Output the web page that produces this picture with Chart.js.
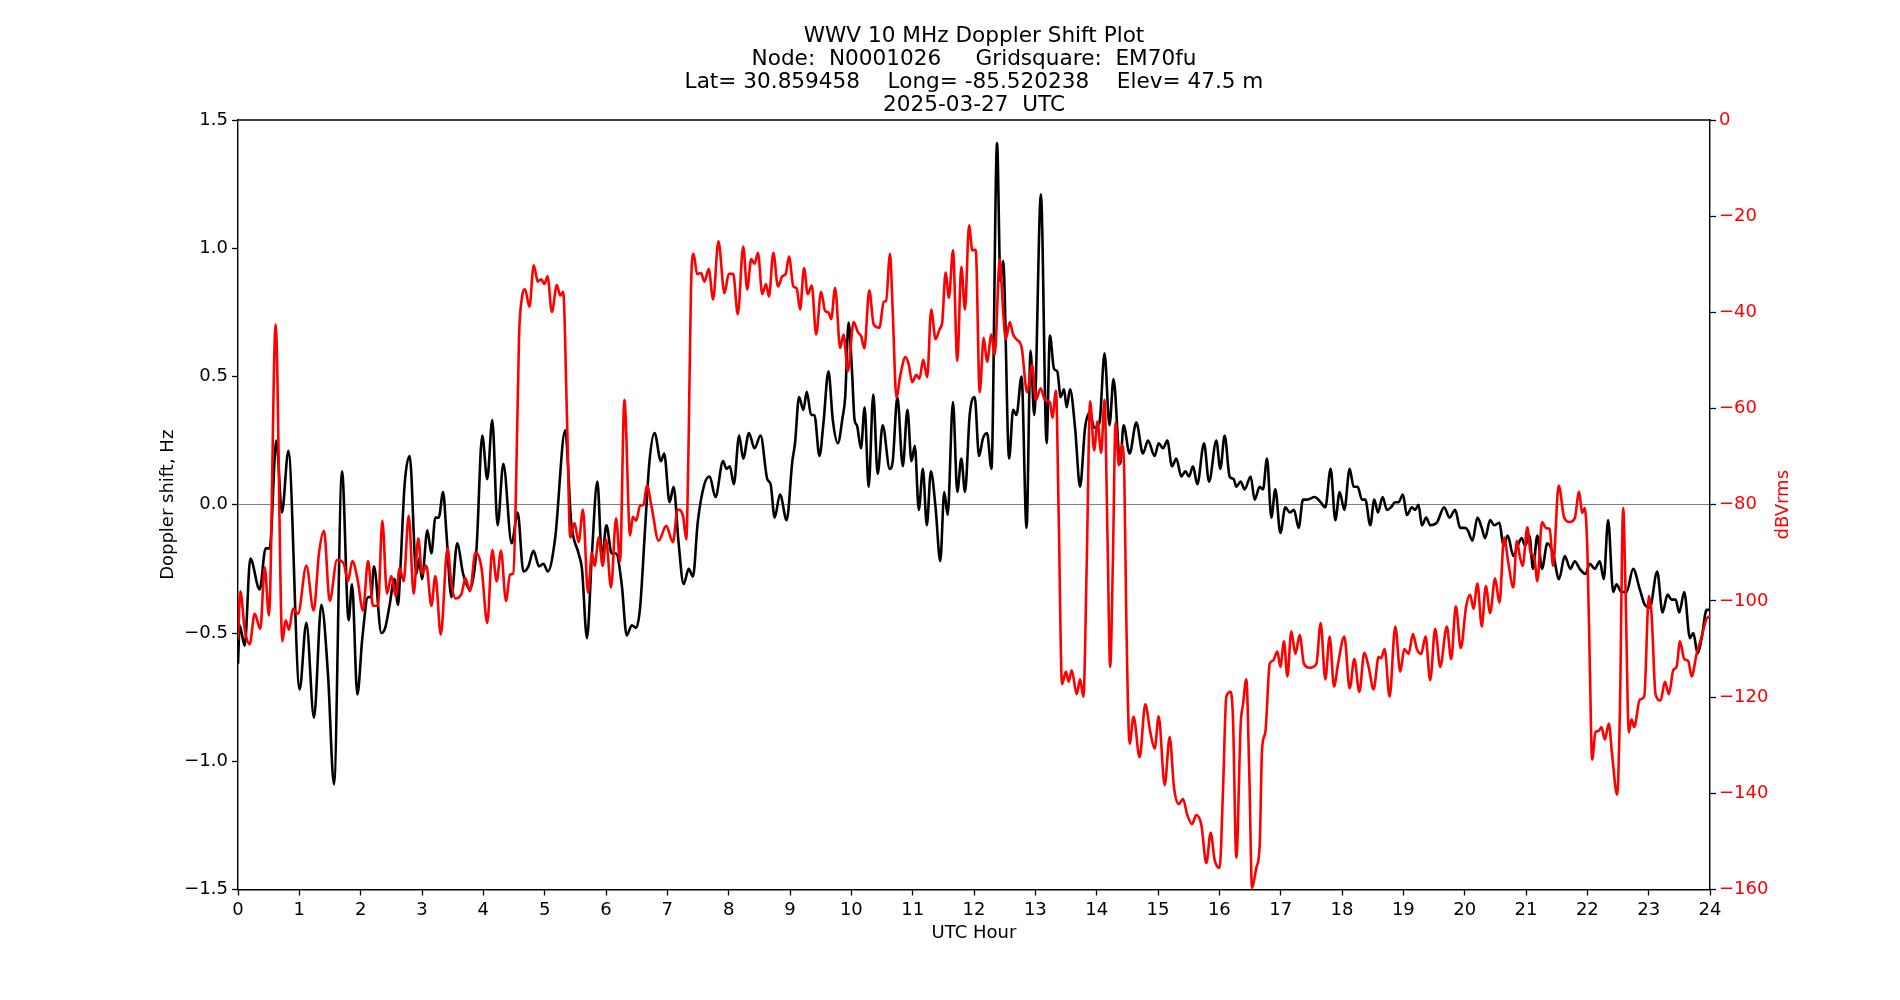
<!DOCTYPE html>
<html>
<head>
<meta charset="utf-8">
<script src="https://cdn.jsdelivr.net/npm/chart.js@4"></script>
<style>
  html, body { margin: 0; padding: 0; background: #ffffff; }
  #wrap { width: 1900px; height: 1000px; }
</style>
</head>
<body>
<div id="wrap"><canvas id="c" width="1900" height="1000"></canvas></div>
<script>
// ---------------- data ----------------
const titleLines = [
  "WWV 10 MHz Doppler Shift Plot",
  "Node:  N0001026     Gridsquare:  EM70fu",
  "Lat= 30.859458    Long= -85.520238    Elev= 47.5 m",
  "2025-03-27  UTC"
];
const xAxisTitle = "UTC Hour";
const leftAxisTitle = "Doppler shift, Hz";
const rightAxisTitle = "dBVrms";

const dopplerHours = [
  0, 0.027, 0.109, 0.201, 0.353, 0.451, 0.516, 0.625, 0.717, 0.821,
  1.005, 1.114, 1.239, 1.359, 1.467, 1.565, 1.696, 1.804, 1.859, 1.946,
  2.027, 2.12, 2.17, 2.217, 2.337, 2.40, 2.473, 2.549, 2.609, 2.647,
  2.717, 2.799, 2.908, 2.951, 3.0, 3.087, 3.153, 3.218, 3.273, 3.344,
  3.398, 3.48, 3.573, 3.671, 3.78, 3.889, 3.982, 4.064, 4.146, 4.233,
  4.326, 4.462, 4.56, 4.653, 4.735, 4.817, 4.909, 4.98, 5.051, 5.171,
  5.335, 5.433, 5.553, 5.608, 5.69, 5.771, 5.859, 5.935, 6.006, 6.093,
  6.164, 6.256, 6.338, 6.42, 6.491, 6.556, 6.638, 6.709, 6.791, 6.895,
  6.949, 7.037, 7.102, 7.184, 7.266, 7.348, 7.418, 7.495, 7.604, 7.691,
  7.784, 7.909, 7.964, 8.019, 8.084, 8.171, 8.237, 8.33, 8.422, 8.52,
  8.63, 8.684, 8.75, 8.837, 8.946, 9.038, 9.082, 9.147, 9.218, 9.273,
  9.344, 9.398, 9.48, 9.546, 9.627, 9.698, 9.78, 9.857, 9.9, 9.955,
  10.009, 10.053, 10.091, 10.157, 10.217, 10.282, 10.358, 10.429, 10.511, 10.626,
  10.675, 10.751, 10.839, 10.915, 10.98, 11.035, 11.1, 11.166, 11.231, 11.297,
  11.373, 11.45, 11.515, 11.57, 11.657, 11.728, 11.793, 11.853, 11.93, 12.011,
  12.082, 12.147, 12.213, 12.284, 12.376, 12.431, 12.475, 12.573, 12.638, 12.693,
  12.775, 12.857, 12.922, 12.982, 13.091, 13.184, 13.238, 13.304, 13.358, 13.413,
  13.468, 13.511, 13.566, 13.648, 13.729, 13.811, 13.893, 13.959, 14.046, 14.128,
  14.209, 14.275, 14.384, 14.439, 14.537, 14.646, 14.755, 14.837, 14.946, 15.011,
  15.082, 15.152, 15.228, 15.299, 15.38, 15.446, 15.505, 15.571, 15.641, 15.75,
  15.832, 15.951, 16.016, 16.087, 16.168, 16.234, 16.277, 16.348, 16.413, 16.511,
  16.576, 16.658, 16.712, 16.777, 16.848, 16.913, 16.995, 17.076, 17.147, 17.217,
  17.293, 17.364, 17.435, 17.554, 17.652, 17.728, 17.815, 17.891, 17.962, 18.038,
  18.125, 18.19, 18.255, 18.326, 18.38, 18.461, 18.526, 18.586, 18.662, 18.733,
  18.798, 18.868, 18.922, 18.993, 19.058, 19.139, 19.194, 19.248, 19.302, 19.373,
  19.438, 19.546, 19.666, 19.753, 19.845, 19.926, 20.008, 20.051, 20.127, 20.208,
  20.279, 20.333, 20.415, 20.48, 20.567, 20.632, 20.702, 20.794, 20.849, 20.93,
  20.984, 21.055, 21.114, 21.185, 21.261, 21.348, 21.441, 21.539, 21.631, 21.724,
  21.795, 21.876, 21.969, 22.04, 22.121, 22.203, 22.268, 22.339, 22.421, 22.475,
  22.557, 22.639, 22.747, 22.856, 22.938, 23.02, 23.139, 23.226, 23.308, 23.373,
  23.439, 23.499, 23.58, 23.673, 23.728, 23.798, 23.864, 23.945, 24.0
];
const dopplerHz = [
  -0.62, -0.47, -0.55, -0.21, -0.33, -0.17, -0.17, 0.25, -0.03, 0.21,
  -0.72, -0.46, -0.83, -0.39, -0.66, -1.09, 0.13, -0.45, -0.31, -0.74,
  -0.52, -0.36, -0.36, -0.24, -0.50, -0.48, -0.39, -0.29, -0.39, -0.25,
  0.08, 0.19, -0.27, -0.21, -0.29, -0.10, -0.19, -0.05, -0.05, 0.05,
  -0.11, -0.36, -0.15, -0.27, -0.33, -0.17, 0.27, 0.10, 0.33, -0.08,
  0.16, -0.15, -0.03, -0.26, -0.24, -0.18, -0.24, -0.23, -0.26, -0.13,
  0.29, -0.07, -0.19, -0.25, -0.52, -0.19, 0.09, -0.21, -0.08, -0.19,
  -0.19, -0.31, -0.51, -0.47, -0.48, -0.40, -0.09, 0.17, 0.28, 0.17,
  0.20, 0.01, 0.07, -0.15, -0.31, -0.25, -0.28, -0.07, 0.08, 0.11,
  0.03, 0.17, 0.14, 0.15, 0.08, 0.27, 0.18, 0.28, 0.22, 0.27,
  0.10, 0.08, -0.05, 0.04, -0.06, 0.17, 0.24, 0.42, 0.37, 0.44,
  0.35, 0.35, 0.19, 0.32, 0.52, 0.33, 0.24, 0.34, 0.42, 0.71,
  0.53, 0.33, 0.31, 0.22, 0.38, 0.07, 0.43, 0.12, 0.31, 0.14,
  0.17, 0.42, 0.15, 0.37, 0.17, 0.23, -0.02, 0.14, -0.08, 0.13,
  -0.01, -0.22, 0.05, -0.04, 0.40, 0.05, 0.18, 0.05, 0.35, 0.42,
  0.19, 0.26, 0.28, 0.14, 1.41, 0.87, 0.95, 0.18, 0.37, 0.35,
  0.50, -0.09, 0.60, 0.35, 1.21, 0.24, 0.66, 0.53, 0.52, 0.42,
  0.45, 0.38, 0.45, 0.30, 0.07, 0.30, 0.36, 0.30, 0.32, 0.59,
  0.31, 0.49, 0.16, 0.31, 0.20, 0.32, 0.20, 0.25, 0.19, 0.24,
  0.22, 0.25, 0.15, 0.18, 0.11, 0.13, 0.11, 0.15, 0.08, 0.24,
  0.09, 0.25, 0.14, 0.27, 0.11, 0.10, 0.07, 0.09, 0.06, 0.11,
  0.02, 0.07, 0.06, 0.18, -0.05, 0.06, -0.11, -0.01, -0.03, -0.02,
  -0.09, 0.02, 0.02, 0.03, 0.01, -0.01, 0.14, -0.06, 0.05, -0.02,
  0.14, 0.07, 0.07, 0.02, 0.02, -0.08, 0.02, -0.03, 0.03, -0.02,
  -0.01, 0.01, 0.01, 0.04, -0.04, -0.01, -0.02, 0.00, -0.08, -0.05,
  -0.08, -0.07, -0.01, -0.05, -0.02, -0.09, -0.09, -0.10, -0.14, -0.05,
  -0.09, -0.13, -0.06, -0.08, -0.07, -0.16, -0.12, -0.20, -0.17, -0.13,
  -0.16, -0.12, -0.25, -0.12, -0.25, -0.15, -0.19, -0.29, -0.20, -0.25,
  -0.22, -0.25, -0.27, -0.23, -0.25, -0.22, -0.29, -0.06, -0.34, -0.31,
  -0.34, -0.34, -0.25, -0.33, -0.39, -0.40, -0.26, -0.42, -0.35, -0.37,
  -0.37, -0.42, -0.34, -0.52, -0.50, -0.58, -0.52, -0.41, -0.41
];

const powerHours = [
  0, 0.038, 0.109, 0.190, 0.272, 0.364, 0.435, 0.505, 0.614, 0.723,
  0.777, 0.832, 0.897, 0.978, 1.114, 1.234, 1.321, 1.402, 1.495, 1.614,
  1.723, 1.793, 1.864, 1.946, 2.038, 2.12, 2.201, 2.283, 2.353, 2.429,
  2.5, 2.571, 2.636, 2.701, 2.783, 2.864, 2.940, 3.0, 3.071, 3.153,
  3.218, 3.306, 3.415, 3.48, 3.546, 3.644, 3.709, 3.78, 3.873, 3.971,
  4.064, 4.146, 4.217, 4.288, 4.369, 4.435, 4.489, 4.528, 4.582, 4.626,
  4.68, 4.751, 4.822, 4.888, 4.942, 4.997, 5.046, 5.117, 5.199, 5.253,
  5.302, 5.362, 5.417, 5.488, 5.553, 5.624, 5.706, 5.771, 5.815, 5.881,
  5.946, 6.0, 6.082, 6.164, 6.229, 6.3, 6.393, 6.436, 6.491, 6.556,
  6.611, 6.666, 6.747, 6.857, 6.982, 7.091, 7.168, 7.255, 7.309, 7.348,
  7.386, 7.429, 7.484, 7.549, 7.604, 7.675, 7.746, 7.833, 7.931, 8.002,
  8.073, 8.149, 8.237, 8.302, 8.368, 8.422, 8.477, 8.548, 8.608, 8.657,
  8.728, 8.804, 8.875, 8.93, 8.984, 9.055, 9.109, 9.164, 9.229, 9.289,
  9.355, 9.426, 9.507, 9.573, 9.627, 9.671, 9.736, 9.818, 9.873, 9.944,
  10.037, 10.107, 10.162, 10.211, 10.293, 10.364, 10.457, 10.528, 10.566, 10.631,
  10.675, 10.735, 10.8, 10.882, 10.937, 10.991, 11.062, 11.111, 11.171, 11.237,
  11.302, 11.373, 11.439, 11.482, 11.537, 11.591, 11.657, 11.728, 11.793, 11.853,
  11.919, 11.973, 12.028, 12.093, 12.158, 12.213, 12.284, 12.338, 12.42, 12.475,
  12.518, 12.584, 12.638, 12.693, 12.775, 12.867, 12.949, 13.009, 13.086, 13.157,
  13.238, 13.277, 13.337, 13.38, 13.435, 13.5, 13.544, 13.593, 13.675, 13.729,
  13.784, 13.838, 13.893, 13.959, 14.013, 14.073, 14.128, 14.177, 14.22, 14.264,
  14.308, 14.362, 14.411, 14.45, 14.482, 14.537, 14.602, 14.7, 14.793, 14.875,
  14.946, 15.011, 15.109, 15.19, 15.261, 15.337, 15.408, 15.478, 15.554, 15.625,
  15.707, 15.788, 15.859, 15.924, 16.005, 16.06, 16.114, 16.185, 16.223, 16.277,
  16.348, 16.386, 16.44, 16.489, 16.533, 16.603, 16.658, 16.696, 16.75, 16.821,
  16.875, 16.946, 16.995, 17.054, 17.109, 17.174, 17.239, 17.31, 17.38, 17.473,
  17.582, 17.652, 17.728, 17.799, 17.87, 17.935, 18.038, 18.125, 18.201, 18.282,
  18.364, 18.434, 18.515, 18.597, 18.635, 18.695, 18.776, 18.868, 18.95, 19.015,
  19.085, 19.156, 19.221, 19.291, 19.362, 19.438, 19.519, 19.601, 19.709, 19.78,
  19.856, 19.937, 20.024, 20.089, 20.143, 20.208, 20.279, 20.344, 20.415, 20.496,
  20.567, 20.643, 20.713, 20.794, 20.849, 20.903, 20.946, 21.022, 21.076, 21.131,
  21.185, 21.261, 21.332, 21.387, 21.441, 21.533, 21.621, 21.713, 21.795, 21.866,
  21.915, 21.958, 22.002, 22.04, 22.078, 22.132, 22.187, 22.23, 22.285, 22.35,
  22.404, 22.486, 22.53, 22.584, 22.622, 22.677, 22.72, 22.764, 22.856, 22.927,
  23.003, 23.047, 23.112, 23.194, 23.265, 23.33, 23.401, 23.455, 23.51, 23.58,
  23.646, 23.7, 23.782, 23.853, 23.945, 24.0
];
const powerDb = [
  -108, -98, -105.8, -109, -102.7, -105.8, -93, -103, -42.5, -108.4,
  -104, -106, -101.6, -102.7, -92.7, -102, -90, -85.4, -100, -91.5,
  -92.2, -95.9, -91.7, -95.3, -102, -91.7, -101, -101, -83.3, -98.5,
  -94.8, -99, -93.2, -95.9, -82.3, -98.5, -87, -94.3, -92.7, -101,
  -94.8, -107, -89, -96.4, -99.5, -98.5, -95.3, -98, -89.9, -93.2,
  -104.6, -89.4, -95.9, -89.6, -100, -94.5, -94.3, -79.6, -45.1, -37.3,
  -35.2, -38.8, -30.2, -33.6, -33.1, -34.1, -32.5, -39.9, -34.3, -36.5,
  -35.7, -60.8, -86.8, -83.8, -87.8, -81, -98.3, -90.1, -92.7, -86.8,
  -92.7, -87.2, -97.2, -82.8, -91.7, -58.2, -86.4, -82.5, -83.3, -80.2,
  -80, -76, -80.7, -87.5, -84.4, -87.8, -81, -82.3, -87.2, -66,
  -34.6, -27.8, -32, -31.8, -33.6, -31, -37.3, -25.2, -36, -32,
  -32, -40.4, -26.3, -35.2, -28.9, -29.9, -27.6, -36.2, -34.1, -36.7,
  -27.6, -34.6, -32.5, -32, -28.4, -34.6, -35, -39.4, -30.8, -36.2,
  -34.4, -44.6, -35.7, -39.7, -40, -41.4, -34.9, -47.4, -44.6, -52.2,
  -42, -44.1, -45, -47.5, -35.4, -42.5, -43.2, -37.8, -37.6, -27.8,
  -39.9, -57.7, -53, -49.3, -50.9, -54.5, -53, -53.8, -49.8, -53.5,
  -39.4, -45.6, -43.5, -42, -31.7, -37, -27.1, -50.1, -30.5, -39.4,
  -21.9, -27.1, -27, -56.6, -45.3, -50.3, -44.6, -48.8, -28.9, -39.9,
  -45.6, -42, -44.6, -45.6, -47.2, -56.6, -50.9, -58.2, -55.8, -58.2,
  -58.7, -61.9, -56.3, -81.7, -117.3, -114.7, -116.8, -114.4, -119.4, -116.3,
  -119.9, -92.2, -58.5, -68.7, -62.7, -69.2, -58.2, -87, -113.7, -92,
  -62.9, -71.8, -67.6, -73.4, -102.7, -129.7, -124.1, -132.5, -121.5, -127.3,
  -130.7, -124, -138.3, -128.3, -138.8, -142.2, -141.2, -144.5, -146.4, -144.5,
  -146.6, -154.5, -148.2, -153.9, -155.5, -139.3, -119.9, -118.9, -124.6, -153.4,
  -125.7, -121.5, -116.3, -136.2, -159.7, -155.5, -150.8, -130.9, -127.3, -113.1,
  -112.4, -110.5, -113.7, -108.4, -115.7, -106.3, -111, -107.1, -113.1, -113.9,
  -113.1, -104.6, -116.3, -107.4, -117.8, -113.1, -107.4, -118.2, -112.1, -118.9,
  -110.8, -113.7, -118.4, -111.6, -111.9, -110, -119.9, -105.3, -114.7, -110,
  -111, -106.9, -110, -111, -107.4, -116.5, -105.8, -113.7, -105.3, -112.1,
  -101.1, -109.8, -101.1, -98.7, -101.6, -96.4, -105.3, -96.9, -102.5, -95.3,
  -100.4, -86.8, -92.2, -97.2, -87.5, -91, -92.7, -84.7, -90.1, -90.6,
  -95.9, -83.6, -84.9, -85, -92.7, -76, -82.6, -83.6, -82.8, -77.3,
  -81.7, -80.7, -90.1, -113.1, -133, -127.3, -127, -126.2, -128.8, -125.5,
  -132, -140.3, -123.6, -80.7, -97.4, -127.3, -124.6, -126.2, -120.5, -119.9,
  -99, -102.7, -119.4, -120.7, -116.8, -119.4, -114.4, -113.7, -108.4, -112.1,
  -112.5, -115.7, -111, -107.9, -103.7, -103.2
];

const xRange = [0, 24];
const leftRange = [-1.5, 1.5];
const rightRange = [-160, 0];

// ---------------- chart ----------------
const FONT = "'DejaVu Sans', 'Liberation Sans', sans-serif";
const TICK_PX = 18;
const LABEL_PX = 18;
const TITLE_PX = 21.6;
Chart.defaults.color = '#000000';
Chart.defaults.font.family = FONT;

const uminus = s => String(s).replace('-', '\u2212');

const framePlugin = {
  id: 'frame',
  afterDraw(chart) {
    const {ctx, chartArea: a} = chart;
    ctx.save();
    ctx.strokeStyle = '#000000';
    ctx.lineWidth = 1.4;
    ctx.beginPath();
    ctx.moveTo(a.left - 0.7, a.top);
    ctx.lineTo(a.right + 0.7, a.top);
    ctx.stroke();
    // right-axis title, rotated to read bottom-to-top
    ctx.translate(a.right + 73, (a.top + a.bottom) / 2);
    ctx.rotate(-Math.PI / 2);
    ctx.font = LABEL_PX + "px " + FONT;
    ctx.fillStyle = '#ff0000';
    ctx.textAlign = 'center';
    ctx.textBaseline = 'middle';
    ctx.fillText(rightAxisTitle, 0, 0);
    ctx.restore();
  }
};

const tickFont = {family: FONT, size: TICK_PX};

new Chart(document.getElementById('c'), {
  type: 'line',
  data: {
    datasets: [
      {
        label: 'Doppler',
        data: dopplerHours.map((h, i) => ({x: h, y: dopplerHz[i]})),
        borderColor: '#000000',
        borderWidth: 2.6,
        pointRadius: 0,
        fill: false,
        cubicInterpolationMode: 'monotone',
        yAxisID: 'y',
        order: 2
      },
      {
        label: 'Power',
        data: powerHours.map((h, i) => ({x: h, y: powerDb[i]})),
        borderColor: '#ff0000',
        borderWidth: 2.6,
        pointRadius: 0,
        fill: false,
        cubicInterpolationMode: 'monotone',
        yAxisID: 'y1',
        order: 1
      }
    ]
  },
  options: {
    responsive: false,
    animation: false,
    devicePixelRatio: 1,
    layout: {padding: {left: 48, right: 0, top: 0, bottom: 0}},
    plugins: {
      legend: {display: false},
      tooltip: {enabled: false},
      title: {
        display: true,
        text: titleLines,
        color: '#000000',
        font: {family: FONT, size: TITLE_PX, weight: 'normal', lineHeight: '23px'},
        padding: {top: 24.5, bottom: 3.5}
      }
    },
    scales: {
      x: {
        type: 'linear',
        position: 'bottom',
        min: xRange[0],
        max: xRange[1],
        afterFit: s => { s.height = 110.5; },
        ticks: {stepSize: 1, font: tickFont, color: '#000000', padding: 4, maxRotation: 0, autoSkip: false,
                callback: v => uminus(v)},
        grid: {drawOnChartArea: false, drawTicks: true, tickLength: 6, tickColor: '#000000', tickWidth: 1.3},
        border: {display: true, color: '#000000', width: 1.4},
        title: {display: true, text: xAxisTitle, font: {family: FONT, size: LABEL_PX}, color: '#000000',
                padding: {top: 0, bottom: 56.2}}
      },
      y: {
        type: 'linear',
        position: 'left',
        min: leftRange[0],
        max: leftRange[1],
        afterFit: s => { s.width = 190; },
        ticks: {stepSize: 0.5, font: tickFont, color: '#000000', padding: 4,
                callback: v => uminus(Number(v).toFixed(1))},
        grid: {
          drawOnChartArea: true,
          drawTicks: true,
          tickLength: 6,
          tickColor: '#000000',
          tickWidth: 1.3,
          lineWidth: 1,
          color: c => (c.tick && Math.abs(c.tick.value) < 1e-9) ? '#808080' : 'rgba(0,0,0,0)'
        },
        border: {display: true, color: '#000000', width: 1.4},
        title: {display: true, text: leftAxisTitle, font: {family: FONT, size: LABEL_PX}, color: '#000000',
                padding: {top: 109.6, bottom: 0}}
      },
      y1: {
        type: 'linear',
        position: 'right',
        min: rightRange[0],
        max: rightRange[1],
        afterFit: s => { s.width = 190; },
        ticks: {stepSize: 20, font: tickFont, color: '#ff0000', padding: 3,
                callback: v => uminus(v)},
        grid: {drawOnChartArea: false, drawTicks: true, tickLength: 6, tickColor: '#000000', tickWidth: 1.3},
        border: {display: true, color: '#000000', width: 1.4},
        title: {display: false}
      }
    }
  },
  plugins: [framePlugin]
});
</script>
</body>
</html>
